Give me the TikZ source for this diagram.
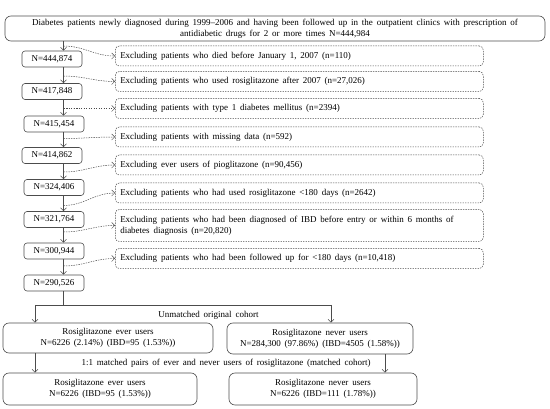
\documentclass[tikz,border=0pt]{standalone}
\usepackage{fontspec}
\setmainfont{Liberation Serif}
\usetikzlibrary{arrows.meta}
\definecolor{linegray}{gray}{0.3}
\newcommand{\myfont}{\fontsize{9}{11}\selectfont\spaceskip=0.42em plus 0.1em minus 0.05em\relax}
\newcommand{\widesp}{\spaceskip=0.42em plus 0.1em minus 0.05em\relax}
\begin{document}
\begin{tikzpicture}[x=1pt,y=-1pt,
  every node/.style={font=\myfont, inner sep=0pt, text=black},
  nbox/.style={draw=linegray, rounded corners=3pt, minimum width=60pt, minimum height=16pt, line width=0.6pt},
  exbox/.style={draw=linegray, dash pattern=on 1.4pt off 1.1pt, rounded corners=4pt, minimum width=368pt, text width=358pt, align=left, line width=0.5pt, anchor=west, minimum height=20pt, execute at begin node=\widesp},
  bigbox/.style={draw=linegray, rounded corners=6pt, align=center, line width=0.6pt},
  plain/.style={draw=linegray, line width=0.5pt},
  arr/.style={-{Straight Barb[length=3pt,width=6pt]}, line width=0.5pt, draw=linegray},
  darr/.style={arr, dash pattern=on 1.4pt off 1.1pt},
  lbl/.style={font=\myfont}
]
\useasboundingbox (0,0) rectangle (550,409);

\node[bigbox, minimum width=540pt, minimum height=25pt] (top) at (275,28.5)
  {Diabetes patients newly diagnosed during 1999--2006 and having been followed up in the outpatient clinics with prescription of\\ antidiabetic drugs for 2 or more times N=444,984};

\node[nbox] (b1) at (52,59) {N=444,874};
\node[nbox] (b2) at (52,91.5) {N=417,848};
\node[nbox] (b3) at (54,124) {N=415,454};
\node[nbox] (b4) at (52,155.5) {N=414,862};
\node[nbox] (b5) at (54,187.5) {N=324,406};
\node[nbox] (b6) at (54,219.5) {N=321,764};
\node[nbox] (b7) at (54,251) {N=300,944};
\node[nbox] (b8) at (54,283) {N=290,526};

\node[exbox] (d1) at (115,56) {Excluding patients who died before January 1, 2007 (n=110)};
\node[exbox] (d2) at (115,81.5) {Excluding patients who used rosiglitazone after 2007 (n=27,026)};
\node[exbox] (d3) at (115,108.5) {Excluding patients with type 1 diabetes mellitus (n=2394)};
\node[exbox] (d4) at (115,137) {Excluding patients with missing data (n=592)};
\node[exbox] (d5) at (115,165) {Excluding ever users of pioglitazone (n=90,456)};
\node[exbox] (d6) at (115,193) {Excluding patients who had used rosiglitazone <180 days (n=2642)};
\node[exbox, minimum height=32pt] (d7) at (115,225.5) {Excluding patients who had been diagnosed of IBD before entry or within 6 months of\\diabetes diagnosis (n=20,820)};
\node[exbox] (d8) at (115,258.5) {Excluding patients who had been followed up for <180 days (n=10,418)};

\coordinate (vx) at (63.5,0);
\draw[arr] (top.south -| vx) -- (b1.north -| vx);
\draw[arr] (b1.south -| vx) -- (b2.north -| vx);
\draw[arr] (b2.south -| vx) -- (b3.north -| vx);
\draw[arr] (b3.south -| vx) -- (b4.north -| vx);
\draw[arr] (b4.south -| vx) -- (b5.north -| vx);
\draw[arr] (b5.south -| vx) -- (b6.north -| vx);
\draw[arr] (b6.south -| vx) -- (b7.north -| vx);
\draw[arr] (b7.south -| vx) -- (b8.north -| vx);

\coordinate (s1) at (63.5,46);
\coordinate (s2) at (63.5,76);
\coordinate (s3) at (63.5,108.5);
\coordinate (s4) at (63.5,138.5);
\coordinate (s5) at (63.5,172);
\coordinate (s6) at (63.5,205.5);
\coordinate (s7) at (63.5,232);
\coordinate (s8) at (63.5,266);
\draw[darr] (s1) to[out=0,in=180] (d1.west);
\draw[darr] (s2) to[out=0,in=180] (d2.west);
\draw[darr] (s3) to[out=0,in=180] (d3.west);
\draw[darr] (s4) to[out=0,in=180] (d4.west);
\draw[darr] (s5) to[out=0,in=180] (d5.west);
\draw[darr] (s6) to[out=0,in=180] (d6.west);
\draw[darr] (s7) to[out=0,in=180] (d7.west);
\draw[darr] (s8) to[out=0,in=180] (d8.west);

\node[bigbox, minimum width=210pt, minimum height=30pt] (r1) at (108,338)
  {Rosiglitazone ever users\\N=6226 (2.14\%) (IBD=95 (1.53\%))};
\node[bigbox, minimum width=186pt, minimum height=31pt] (r2) at (320,338.5)
  {Rosiglitazone never users\\N=284,300 (97.86\%) (IBD=4505 (1.58\%))};
\node[bigbox, minimum width=194pt, minimum height=32pt] (l2) at (100,389)
  {Rosiglitazone ever users\\N=6226 (IBD=95 (1.53\%))};
\node[bigbox, minimum width=188pt, minimum height=32pt] (r3) at (323,389)
  {Rosiglitazone never users\\N=6226 (IBD=111 (1.78\%))};

\node[lbl] (t1) at (208.5,315.5) {Unmatched original cohort};
\node[lbl] (t2) at (226,363.5) {1:1 matched pairs of ever and never users of rosiglitazone (matched cohort)};

\coordinate (j) at (63.5,305);
\coordinate (jl) at (35,305);
\coordinate (jr) at (331,305);
\coordinate (xr) at (385,0);
\draw[plain] (b8.south -| vx) -- (j);
\draw[plain] (jl) -- (jr);
\draw[arr] (jl) -- (r1.north -| jl);
\draw[arr] (jr) -- (r2.north -| jr);
\draw[arr] (r1.south -| jl) -- (l2.north -| jl);
\draw[arr] (r2.south -| xr) -- (r3.north -| xr);
\end{tikzpicture}
\end{document}
